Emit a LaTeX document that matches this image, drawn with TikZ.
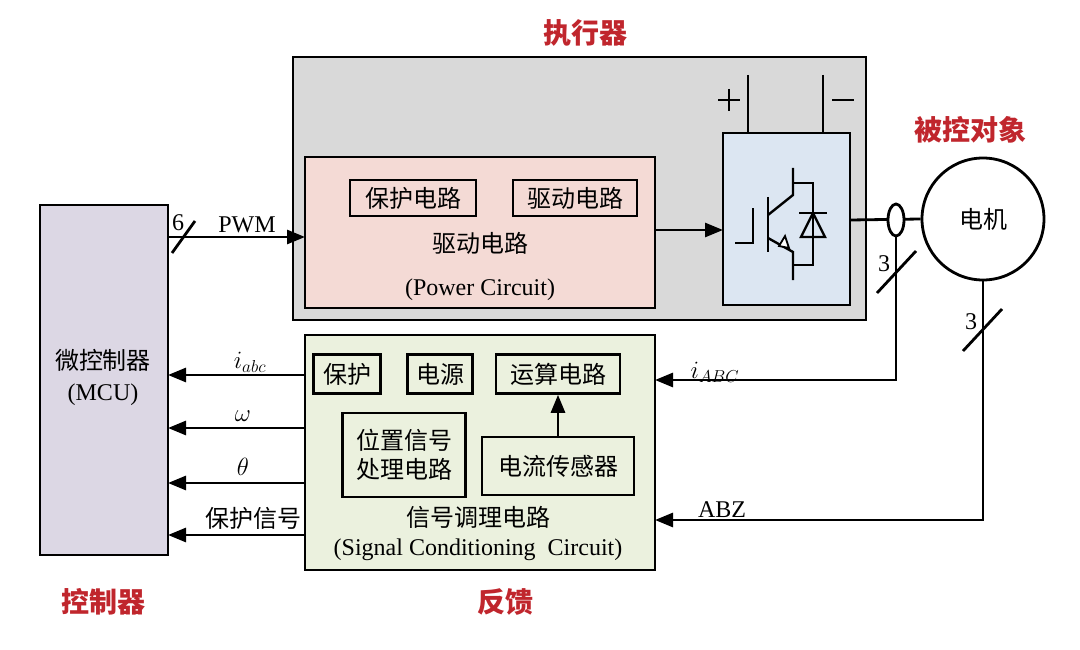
\documentclass[tikz,border=0pt]{standalone}
\usepackage{fontspec}
\setmainfont{Liberation Serif}
\newfontfamily\cjk{Noto Sans CJK SC}
\usetikzlibrary{arrows.meta}
\definecolor{tred}{HTML}{C0262D}
\definecolor{pinkf}{HTML}{F4DAD5}
\definecolor{bluef}{HTML}{DCE6F2}
\definecolor{greenf}{HTML}{EBF1DE}
\definecolor{mcuf}{HTML}{DCD7E4}
\definecolor{grayf}{HTML}{D9D9D9}
\begin{document}
\begin{tikzpicture}[x=1pt,y=-1pt,line width=2.8pt,
  box/.style={draw,line width=2.8pt},
  sub/.style={draw,line width=2.6pt,inner sep=0},
  txt/.style={font=\cjk\fontsize{24}{29}\selectfont},
  ltx/.style={font=\fontsize{24}{28}\selectfont},
  ttl/.style={font=\cjk\bfseries\fontsize{28}{32}\selectfont,text=tred},
  arr/.style={-{Triangle[length=18pt,width=14pt]}}]
\useasboundingbox (0,0) rectangle (1080,650);
% titles
\node[ttl] (t1) at (585,33) {执行器};
\node[ttl] (t2) at (970,130) {被控对象};
\node[ttl] (t3) at (103,602) {控制器};
\node[ttl] (t4) at (505,602) {反馈};
% executor
\draw[box,fill=grayf] (293,57) rectangle (866,320);
\draw[box,fill=pinkf] (305,157) rectangle (655,308);
\node[sub,minimum width=126,minimum height=36,txt] (bh) at (413,198) {保护电路};
\node[sub,minimum width=124,minimum height=36,txt] (qd) at (575,198) {驱动电路};
\node[txt] (qd2) at (480,243) {驱动电路};
\node[ltx] (pc) at (480,290) {(Power Circuit)};
\draw[box,fill=bluef] (723,133) rectangle (850,305);
\coordinate (pink) at (655,230);
\coordinate (blue) at (723,230);
\draw[arr] (pink) -- (blue);
% terminals
\draw (748,75) -- (748,133);
\draw (823,75) -- (823,133);
\draw (718,100) -- (740,100) (729,89) -- (729,111);
\draw (832,100) -- (854,100);
% IGBT
\begin{scope}[line width=2.4pt]
\draw (735,243) -- (753,243) -- (753,208);
\draw (768,197) -- (768,252);
\draw (768,215) -- (793,195) -- (793,168);
\draw (793,183) -- (813,183) -- (813,265) -- (793,265);
\draw (768,238) -- (793,252) -- (793,280);
\draw[fill=white,line width=1.8pt] (779,246) -- (785,236) -- (789,248) -- cycle;
\draw (813,213) -- (801,237) -- (825,237) -- cycle;
\draw (799,213) -- (827,213);
\end{scope}
% motor
\node[draw,circle,line width=2.8pt,minimum size=122,txt] (m) at (983,219) {电机};
\coordinate (o1) at (850,220);
\draw (o1) -- (m.west);
\draw[fill=white] (896,220) ellipse (8 and 16);
\coordinate (e1) at (896,236);
\coordinate (e2) at (896,380);
\coordinate (g1) at (655,380);
\draw[arr] (e1) -- (e2) -- (g1);
\draw (877,293) -- (916,251);
\node[ltx] (n3a) at (884,264) {3};
\coordinate (m2) at (983,520);
\coordinate (g2) at (655,520);
\draw[arr] (m.south) -- (m2) -- (g2);
\draw (963,351) -- (1002,309);
\node[ltx] (n3b) at (971,322) {3};
\node[ltx] (iABC) at (715,372) {$i_{ABC}$};
\node[ltx] (abz) at (722,510) {ABZ};
% MCU
\draw[box,fill=mcuf] (40,205) rectangle (168,555);
\node[txt] (mcu1) at (103,360) {微控制器};
\node[ltx] (mcu2) at (103,395) {(MCU)};
\coordinate (p1) at (168,237);
\coordinate (p2) at (305,237);
\draw[arr] (p1) -- (p2);
\draw (172,253) -- (195,221);
\node[ltx] (six) at (178,223) {6};
\node[ltx] (pwm) at (247,225) {PWM};
% feedback
\draw[box,fill=greenf] (305,335) rectangle (655,570);
\node[sub,minimum width=67,minimum height=39,txt] (bh2) at (347,374) {保护};
\node[sub,minimum width=65,minimum height=39,txt] (dy) at (440,374) {电源};
\node[sub,minimum width=124,minimum height=39,txt] (ys) at (558,374) {运算电路};
\node[sub,minimum width=123,minimum height=84,txt,align=center] (wz) at (404,455) {位置信号\\处理电路};
\node[sub,minimum width=152,minimum height=58,txt] (dl) at (558,466) {电流传感器};
\draw[arr] (dl.north) -- (ys.south);
\node[txt] (xh) at (478,517) {信号调理电路};
\node[ltx] (scc) at (478,550) {(Signal Conditioning\ \ Circuit)};
\foreach \y/\n in {375/a,428/b,483/c,535/d}{
  \coordinate (l\n) at (305,\y); \coordinate (r\n) at (168,\y);
  \draw[arr] (l\n) -- (r\n);}
\node[ltx] (iabc) at (250,362) {$i_{abc}$};
\node[ltx] (om) at (243,416) {$\omega$};
\node[ltx] (th) at (243,467) {$\theta$};
\node[txt] (bhx) at (253,518) {保护信号};
\end{tikzpicture}
\end{document}
